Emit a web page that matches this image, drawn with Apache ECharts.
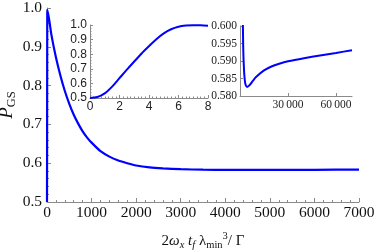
<!DOCTYPE html>
<html><head><meta charset="utf-8">
<script src="https://cdn.jsdelivr.net/npm/echarts@6/dist/echarts.min.js"></script>
<style>html,body{margin:0;padding:0;background:#fff}#c{width:374px;height:251px}</style>
</head><body><div id="c"></div>
<script>
// Main curve
const mainX = [0,2,4,6,8,100,200,300,400,500,600,700,800,900,1000,1200,1400,1600,1800,2000,2300,2600,3000,3500,4000,4500,5000,6000,7000];
const mainY = [0.5,0.638,0.852,0.988,0.995,0.930,0.873,0.826,0.786,0.753,0.725,0.702,0.682,0.666,0.653,0.631,0.617,0.607,0.600,0.594,0.589,0.5865,0.5845,0.5832,0.5827,0.5826,0.5827,0.5830,0.5836];
// Inset 1 (early times)
const in1X = [0,0.5,1,1.5,2,2.5,3,3.5,4,4.5,5,5.5,6,6.5,7,7.5,8];
const in1Y = [0.5,0.507,0.532,0.578,0.636,0.694,0.750,0.805,0.855,0.903,0.943,0.971,0.988,0.996,0.999,0.998,0.995];
// Inset 2 (long times)
const in2X = [8,500,1000,1500,2000,2500,3000,3500,4400,6000,8000,10000,15000,20000,25000,30000,40000,50000,60000,70000];
const in2Y = [0.995,0.753,0.653,0.612,0.594,0.5875,0.5845,0.5832,0.5826,0.5831,0.5843,0.5854,0.5873,0.5885,0.5893,0.5899,0.5908,0.5916,0.5923,0.5931];
// tick labels
const mainYTicks = ['0.5','0.6','0.7','0.8','0.9','1.0'];
const in2XTicks = [30000, 60000];
const in2XTickLabels = ['30\u2009000','60\u2009000'];

const zip = (a,b) => a.map((v,i)=>[v,b[i]]);
const serif = 'Liberation Serif';
const sans = 'Liberation Sans';
const axisCol = '#8a8a8a';
const blue = '#0000ff';

const chart = echarts.init(document.getElementById('c'), null, {renderer:'canvas'});
chart.setOption({
  animation:false,
  grid:[
    {left:47, top:8, right:15, bottom:49, outerBoundsMode:'none', containLabel:false},
    {left:90, top:25, right:166, bottom:153, outerBoundsMode:'none', containLabel:false},
    {left:240, top:26, right:22, bottom:155, outerBoundsMode:'none', containLabel:false}
  ],
  xAxis:[
    {gridIndex:0, type:'value', min:0, max:7000, interval:1000,
     axisLine:{lineStyle:{color:axisCol,width:1}},
     axisTick:{inside:true,length:4,lineStyle:{color:axisCol}},
     minorTick:{show:true,splitNumber:5,length:2,lineStyle:{color:axisCol}},
     splitLine:{show:false},
     axisLabel:{fontFamily:serif,fontSize:15.5,color:'#111',margin:3,formatter:v=>String(v)},
     name:'{n|2}{i|ω}{is|x} {i|t}{is|f} {n|λ}{ns|min}{sup|3}{n|/ Γ}',
     nameLocation:'middle', nameGap:29, nameMoveOverlap:false,
     nameTextStyle:{fontFamily:serif,fontSize:15,color:'#111',
       rich:{
         n:{fontFamily:serif,fontSize:15,color:'#111',lineHeight:20},
         i:{fontFamily:serif,fontSize:15,fontStyle:'italic',color:'#111',lineHeight:20},
         is:{fontFamily:serif,fontSize:10.5,fontStyle:'italic',color:'#111',lineHeight:10,verticalAlign:'bottom'},
         ns:{fontFamily:serif,fontSize:10.5,color:'#111',lineHeight:10,verticalAlign:'bottom'},
         sup:{fontFamily:serif,fontSize:10.5,color:'#111',lineHeight:10,verticalAlign:'top'}
       }}
    },
    {gridIndex:1, type:'value', min:0, max:8, interval:2,
     axisLine:{lineStyle:{color:axisCol,width:1}},
     axisTick:{inside:true,length:3,lineStyle:{color:axisCol}},
     minorTick:{show:true,splitNumber:8,length:1.5,lineStyle:{color:axisCol}},
     splitLine:{show:false},
     axisLabel:{fontFamily:sans,fontSize:12,color:'#222',margin:3}
    },
    {gridIndex:2, type:'value', min:0, max:70000, interval:30000,
     axisLine:{lineStyle:{color:axisCol,width:1}},
     axisTick:{inside:true,length:3,customValues:in2XTicks,lineStyle:{color:axisCol}},
     splitLine:{show:false},
     axisLabel:{fontFamily:serif,fontSize:11.5,color:'#222',margin:3,
       customValues:in2XTicks,
       formatter:v=>{const k=in2XTicks.indexOf(v);return k>=0?in2XTickLabels[k]:'';}}
    }
  ],
  yAxis:[
    {gridIndex:0, type:'value', min:0.5, max:1.0, interval:0.1,
     axisLine:{show:true,lineStyle:{color:axisCol,width:1}},
     axisTick:{show:true,inside:true,length:4,lineStyle:{color:axisCol}},
     minorTick:{show:true,splitNumber:5,length:2,lineStyle:{color:axisCol}},
     splitLine:{show:false},
     axisLabel:{fontFamily:serif,fontSize:15.5,color:'#111',margin:5,
       formatter:v=>mainYTicks[Math.round((v-0.5)*10)]},
     name:'{p|P}{s|GS}', nameLocation:'middle', nameGap:29, nameRotate:90, nameMoveOverlap:false,
     nameTextStyle:{fontFamily:serif,fontSize:19,color:'#111',
       rich:{
         p:{fontFamily:serif,fontSize:19,fontStyle:'italic',color:'#111',lineHeight:22},
         s:{fontFamily:serif,fontSize:12.5,color:'#111',lineHeight:12,verticalAlign:'bottom'}
       }}
    },
    {gridIndex:1, type:'value', min:0.5, max:1.0, interval:0.1,
     axisLine:{show:true,lineStyle:{color:axisCol,width:1}},
     axisTick:{show:true,inside:true,length:3,lineStyle:{color:axisCol}},
     minorTick:{show:true,splitNumber:5,length:1.5,lineStyle:{color:axisCol}},
     splitLine:{show:false},
     axisLabel:{fontFamily:sans,fontSize:12,color:'#222',margin:3,formatter:v=>v.toFixed(1)}
    },
    {gridIndex:2, type:'value', min:0.58, max:0.60, interval:0.005,
     axisLine:{show:true,lineStyle:{color:axisCol,width:1}},
     axisTick:{show:true,inside:true,length:3,lineStyle:{color:axisCol}},
     splitLine:{show:false},
     axisLabel:{fontFamily:serif,fontSize:11.5,color:'#222',margin:3,formatter:v=>v.toFixed(3)}
    }
  ],
  series:[
    {type:'line', xAxisIndex:0, yAxisIndex:0, data:zip(mainX,mainY), showSymbol:false, smooth:0.2,
     lineStyle:{color:blue,width:2.2}, clip:true},
    {type:'line', xAxisIndex:1, yAxisIndex:1, data:zip(in1X,in1Y), showSymbol:false, smooth:0.3,
     lineStyle:{color:blue,width:2}, clip:true},
    {type:'line', xAxisIndex:2, yAxisIndex:2, data:zip(in2X,in2Y), showSymbol:false, smooth:0.2,
     lineStyle:{color:blue,width:2}, clip:true}
  ]
});
</script>
</body></html>
